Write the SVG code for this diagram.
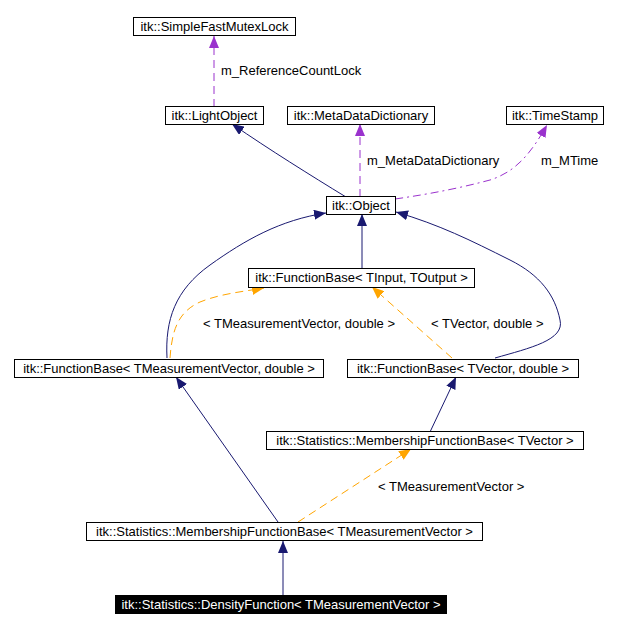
<svg xmlns="http://www.w3.org/2000/svg" width="638" height="627" viewBox="0 0 638 627">
<defs>
<style>
.box{fill:#fff;stroke:#000;stroke-width:1}
.t{font-family:"Liberation Sans",Arial,sans-serif;font-size:13px;fill:#000;text-anchor:middle}
.lbl{font-family:"Liberation Sans",Arial,sans-serif;font-size:13px;fill:#000}
.nv{fill:none;stroke:#191970;stroke-width:1}
.pu{fill:none;stroke:#9a32cd;stroke-width:1;stroke-dasharray:8,5}
.pd{fill:none;stroke:#9a32cd;stroke-width:1;stroke-dasharray:8,4,2,4}
.or{fill:none;stroke:#ffa500;stroke-width:1;stroke-dasharray:8,5}
</style>
<marker id="aN" viewBox="0 0 12 10" refX="12" refY="5" markerWidth="12" markerHeight="10" markerUnits="userSpaceOnUse" orient="auto"><path d="M0,0 L12,5 L0,10 Z" fill="#191970"/></marker>
<marker id="aP" viewBox="0 0 12 10" refX="12" refY="5" markerWidth="12" markerHeight="10" markerUnits="userSpaceOnUse" orient="auto"><path d="M0,0 L12,5 L0,10 Z" fill="#9a32cd"/></marker>
<marker id="aO" viewBox="0 0 12 10" refX="12" refY="5" markerWidth="12" markerHeight="10" markerUnits="userSpaceOnUse" orient="auto"><path d="M0,0 L12,5 L0,10 Z" fill="#ffa500"/></marker>
</defs>
<rect width="638" height="627" fill="#fff"/>
<g id="edges">
<path class="pu" d="M214,107 L214,36" marker-end="url(#aP)"/>
<text class="lbl" x="221" y="75">m_ReferenceCountLock</text>
<path class="nv" d="M346,197 C310,175 270,150 232,124" marker-end="url(#aN)"/>
<path class="pu" d="M360,197 L360,124" marker-end="url(#aP)"/>
<text class="lbl" x="367" y="165">m_MetaDataDictionary</text>
<path class="pd" d="M395,199 C430,194 460,188 490,180 C515,172 530,155 547,125" marker-end="url(#aP)"/>
<text class="lbl" x="541" y="165">m_MTime</text>
<path class="nv" d="M362,268 L362,214" marker-end="url(#aN)"/>
<path class="nv" d="M167,358 C165,320 175,290 210,265 C245,240 280,220 326,213" marker-end="url(#aN)"/>
<path class="nv" d="M495,358 C530,348 565,340 560,320 C555,295 540,275 510,260 C470,240 440,225 396,212" marker-end="url(#aN)"/>
<path class="or" d="M170,358 C172,330 178,312 200,302 C220,294 240,292 264,288" marker-end="url(#aO)"/>
<text class="lbl" x="203" y="328">&lt; TMeasurementVector, double &gt;</text>
<path class="or" d="M452,358 L372,287" marker-end="url(#aO)"/>
<text class="lbl" x="431" y="328">&lt; TVector, double &gt;</text>
<path class="nv" d="M430,432 L456,377" marker-end="url(#aN)"/>
<path class="nv" d="M278,522 L176,377" marker-end="url(#aN)"/>
<path class="or" d="M298,522 L411,449" marker-end="url(#aO)"/>
<text class="lbl" x="378" y="491">&lt; TMeasurementVector &gt;</text>
<path class="nv" d="M283,595 L283,541" marker-end="url(#aN)"/>
</g>
<g id="n_simplefastmutexlock"><rect class="box" x="133.5" y="17.5" width="162" height="18"/><text class="t" x="214.5" y="31">itk::SimpleFastMutexLock</text></g>
<g id="n_lightobject"><rect class="box" x="165.5" y="106.5" width="98" height="18"/><text class="t" x="214.5" y="120">itk::LightObject</text></g>
<g id="n_metadatadictionary"><rect class="box" x="287.5" y="106.5" width="147" height="18"/><text class="t" x="361" y="120">itk::MetaDataDictionary</text></g>
<g id="n_timestamp"><rect class="box" x="506.5" y="106.5" width="97" height="18"/><text class="t" x="555" y="120">itk::TimeStamp</text></g>
<g id="n_object"><rect class="box" x="326.5" y="196.5" width="69" height="18"/><text class="t" x="361" y="210">itk::Object</text></g>
<g id="n_functionbase_tinput"><rect class="box" x="248.5" y="268.5" width="226" height="19"/><text class="t" x="361.5" y="282">itk::FunctionBase&lt; TInput, TOutput &gt;</text></g>
<g id="n_functionbase_tmv"><rect class="box" x="14.5" y="359.5" width="309" height="18"/><text class="t" x="169" y="373">itk::FunctionBase&lt; TMeasurementVector, double &gt;</text></g>
<g id="n_functionbase_tv"><rect class="box" x="347.5" y="359.5" width="231" height="18"/><text class="t" x="463" y="373">itk::FunctionBase&lt; TVector, double &gt;</text></g>
<g id="n_membership_tv"><rect class="box" x="266.5" y="431.5" width="317" height="18"/><text class="t" x="425" y="445">itk::Statistics::MembershipFunctionBase&lt; TVector &gt;</text></g>
<g id="n_membership_tmv"><rect class="box" x="86.5" y="522.5" width="396" height="18"/><text class="t" x="284.5" y="536">itk::Statistics::MembershipFunctionBase&lt; TMeasurementVector &gt;</text></g>
<g id="n_densityfunction"><rect x="115" y="595" width="332" height="19" fill="#000"/><text class="t" x="281" y="609" style="fill:#fff">itk::Statistics::DensityFunction&lt; TMeasurementVector &gt;</text></g>
</svg>
